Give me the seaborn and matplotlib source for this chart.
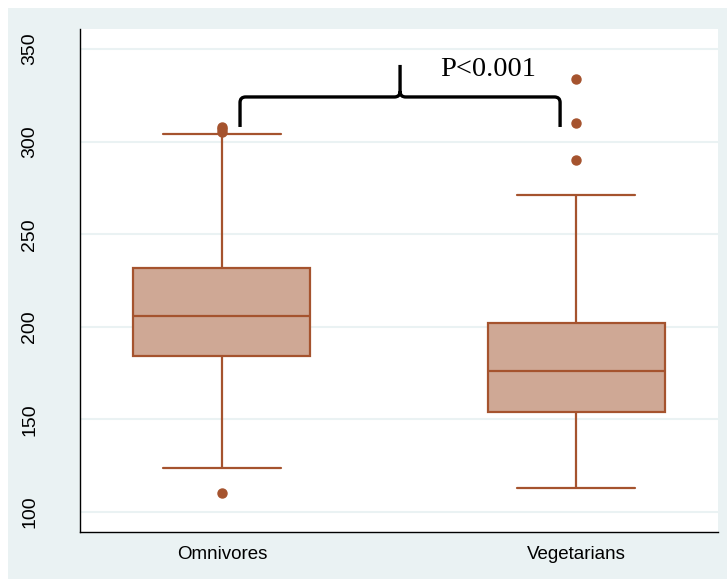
import numpy as np
import pandas as pd
import matplotlib
matplotlib.use("Agg")
import matplotlib.pyplot as plt
from matplotlib.path import Path
from matplotlib.patches import PathPatch, Rectangle
import seaborn as sns

# Box summaries per diet group
groups = ["Omnivores", "Vegetarians"]
q1 = [184, 154]
median = [206, 176]
q3 = [232, 202]
whisker_low = [124, 113]
whisker_high = [304, 271]
outliers_low = [[110], []]
outliers_high = [[305, 307, 308], [290, 310, 334]]

yticks = [100, 150, 200, 250, 300, 350]
p_label = "P<0.001"

EDGE = "#A5532E"
FILL = "#CFA895"
BG = "#EAF2F3"


def sample_from_summary(lo, a, m, b, hi, out_lo, out_hi):
    """Sorted sample whose quartiles, whiskers and outliers equal the summary."""
    low_tail = list(out_lo) + [lo]
    high_tail = [hi] + list(out_hi)
    k = max(len(low_tail), len(high_tail))
    low_part = low_tail + [a] * (k - len(low_tail))
    high_part = [b] * (k - len(high_tail)) + high_tail
    return low_part + [a] * k + [m] + [b] * k + high_part


rows = []
for i, g in enumerate(groups):
    vals = sample_from_summary(whisker_low[i], q1[i], median[i], q3[i],
                               whisker_high[i], outliers_low[i], outliers_high[i])
    rows += [(g, v) for v in vals]
df = pd.DataFrame(rows, columns=["group", "value"])

sns.set_style("white")
plt.rcParams["font.family"] = ["Liberation Sans", "DejaVu Sans"]
plt.rcParams["text.color"] = "black"
plt.rcParams["xtick.color"] = "black"
plt.rcParams["ytick.color"] = "black"

fig = plt.figure(figsize=(7.27, 5.79), dpi=100, facecolor=BG)
fig.patches.append(Rectangle((0, 1 - 8 / 579), 1, 8 / 579, transform=fig.transFigure,
                             facecolor="white", edgecolor="none", zorder=-1))
fig.patches.append(Rectangle((0, 0), 8 / 727, 1, transform=fig.transFigure,
                             facecolor="white", edgecolor="none", zorder=-1))
ax = fig.add_axes([80 / 727, 1 - 532 / 579, (718 - 80) / 727, (532 - 29) / 579])
ax.set_facecolor("white")

sns.boxplot(
    data=df, x="group", y="value", order=groups, ax=ax,
    color=FILL, saturation=1, linecolor=EDGE, linewidth=1.6, width=0.5,
    capwidths=1 / 3, whis=1.5,
    flierprops=dict(marker="o", markerfacecolor=EDGE, markeredgecolor=EDGE,
                    markersize=6.5),
    medianprops=dict(color=EDGE, linewidth=1.6),
    boxprops=dict(edgecolor=EDGE, facecolor=FILL),
    whiskerprops=dict(color=EDGE, linewidth=1.6),
    capprops=dict(color=EDGE, linewidth=1.6),
)

ax.set_xlim(-0.401, 1.401)
ax.set_ylim(89.2, 360.8)
ax.set_yticks(yticks)
ax.set_yticklabels([str(t) for t in yticks], rotation=90, va="center", fontsize=14,
                   color="black")
ax.tick_params(axis="y", length=7, width=1, color="black", pad=23)
ax.tick_params(axis="x", length=0, pad=10, labelsize=13.5, labelcolor="black")
ax.set_xlabel("")
ax.set_ylabel("")
ax.grid(axis="y", color=BG, linewidth=1.5, zorder=0)
ax.set_axisbelow(True)
for side in ["top", "right"]:
    ax.spines[side].set_visible(False)
for side in ["left", "bottom"]:
    ax.spines[side].set_color("black")
    ax.spines[side].set_linewidth(1.0)

# Curly brace spanning both groups
x0, x1, xm = 0.051, 0.955, 0.503
y_end, y_h, y_tip = 307.9, 324.1, 341.4
rx, ry = 0.016, 3.0
verts = [
    (x0, y_end), (x0, y_h - ry),
    (x0, y_h), (x0 + rx, y_h),
    (xm - rx, y_h),
    (xm, y_h), (xm, y_h + ry),
    (xm, y_tip),
    (xm, y_h + ry),
    (xm, y_h), (xm + rx, y_h),
    (x1 - rx, y_h),
    (x1, y_h), (x1, y_h - ry),
    (x1, y_end),
]
codes = [
    Path.MOVETO, Path.LINETO,
    Path.CURVE3, Path.CURVE3,
    Path.LINETO,
    Path.CURVE3, Path.CURVE3,
    Path.LINETO,
    Path.MOVETO,
    Path.CURVE3, Path.CURVE3,
    Path.LINETO,
    Path.CURVE3, Path.CURVE3,
    Path.LINETO,
]
ax.add_patch(PathPatch(Path(verts, codes), facecolor="none", edgecolor="black",
                       linewidth=2.4, capstyle="butt", joinstyle="round", zorder=5))

ax.text(0.616, 335.6, p_label, fontsize=20.5, family=["Liberation Serif", "DejaVu Serif"],
        ha="left", va="baseline", color="black")

fig.savefig("out.png", dpi=100, facecolor=fig.get_facecolor())
